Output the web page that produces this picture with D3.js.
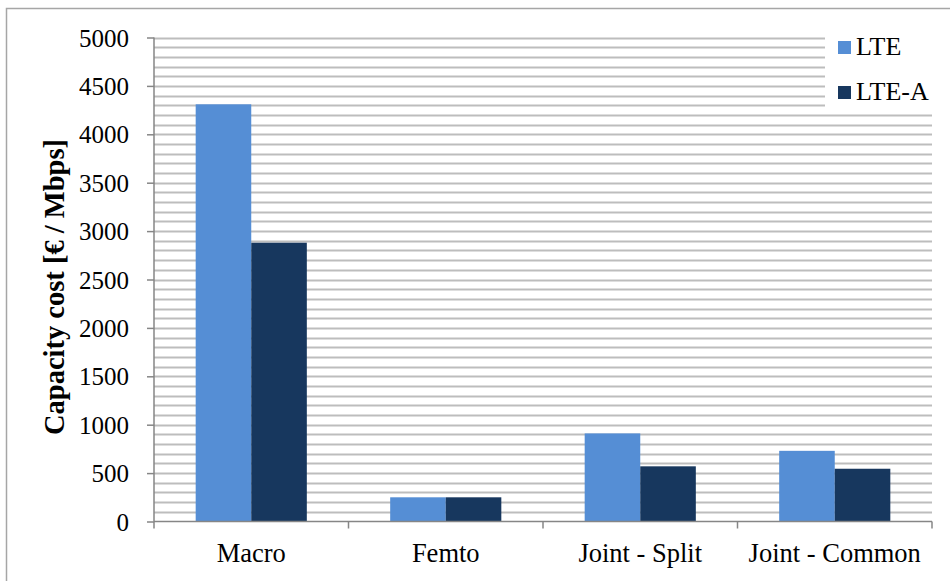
<!DOCTYPE html>
<html><head><meta charset="utf-8">
<script src="https://cdn.jsdelivr.net/npm/d3@7"></script>
<style>body{margin:0;background:#fff}svg{display:block}
svg text{font-family:"Liberation Serif","Times New Roman",serif;fill:#000}</style>
</head><body>
<script>
const categories = ["Macro", "Femto", "Joint - Split", "Joint - Common"];
const seriesNames = ["LTE", "LTE-A"];
const lteValues = [4310, 250, 910, 730];
const lteAValues = [2880, 250, 570, 545];
const yTicks = [0, 500, 1000, 1500, 2000, 2500, 3000, 3500, 4000, 4500, 5000];
const colors = ["#558ED5", "#17375E"];
const yTitle = "Capacity cost [€ / Mbps]";

const W = 950, H = 581;
const m = {left: 154, right: 18, top: 37.5, bottom: 59.5};
const svg = d3.select("body").append("svg").attr("width", W).attr("height", H);

svg.append("rect").attr("x", 6.5).attr("y", 8.5).attr("width", W + 20).attr("height", H + 20)
  .attr("fill", "#fff").attr("stroke", "#a6a6a6").attr("stroke-width", 1.5);

const x0 = d3.scaleBand().domain(categories).range([m.left, W - m.right]).padding(0);
const x1 = d3.scaleBand().domain(seriesNames).range([0, x0.bandwidth()]).paddingInner(0).paddingOuter(0.75);
const y = d3.scaleLinear().domain([0, 5000]).range([H - m.bottom, m.top]);

// gridlines every 100
const grid = d3.range(100, 5001, 100);
svg.append("g").selectAll("line").data(grid).join("line")
  .attr("x1", m.left).attr("x2", W - m.right)
  .attr("y1", d => Math.round(y(d)) + 0.5).attr("y2", d => Math.round(y(d)) + 0.5)
  .attr("stroke", "#bdbdbd").attr("stroke-width", 2);

// bars
const data = categories.map((c, i) => ({cat: c, vals: [lteValues[i], lteAValues[i]]}));
const g = svg.append("g");
data.forEach(d => {
  d.vals.forEach((v, j) => {
    g.append("rect")
      .attr("x", x0(d.cat) + x1(seriesNames[j]))
      .attr("width", x1.bandwidth())
      .attr("y", y(v)).attr("height", y(0) - y(v))
      .attr("fill", colors[j]);
  });
});

// y axis
const yAxis = d3.axisLeft(y).tickValues(yTicks).tickSize(7).tickPadding(18).tickFormat(d3.format("d"));
const ya = svg.append("g").attr("transform", `translate(${m.left},0)`).call(yAxis);
ya.attr("font-family", null).attr("font-size", null);
ya.selectAll("text").style("font-size", "25px").attr("dy", "0.34em");
ya.selectAll("line,path").attr("stroke", "#868686").attr("stroke-width", 1.5);
ya.select(".domain").attr("d", `M0,${y(5000)}V${y(0)}`);

// x axis
const xa = svg.append("g").attr("transform", `translate(0,${y(0)})`);
xa.append("line").attr("x1", m.left).attr("x2", W - m.right).attr("stroke", "#868686").attr("stroke-width", 1.5);
const bounds = categories.map(c => x0(c)).concat([x0(categories[3]) + x0.bandwidth()]);
xa.selectAll(".tk").data(bounds).join("line").attr("class", "tk")
  .attr("x1", d => d).attr("x2", d => d).attr("y1", 0).attr("y2", 7)
  .attr("stroke", "#868686").attr("stroke-width", 1.5);
xa.selectAll(".lbl").data(categories).join("text").attr("class", "lbl")
  .attr("x", d => x0(d) + x0.bandwidth() / 2).attr("y", 40)
  .attr("text-anchor", "middle").style("font-size", "26.5px").text(d => d);

// y title
svg.append("text").attr("transform", `translate(64,287) rotate(-90)`)
  .attr("text-anchor", "middle").style("font-weight", "bold")
  .style("font-size", "28.5px").text(yTitle);

// legend
const lg = svg.append("g");
lg.append("rect").attr("x", 825).attr("y", 28).attr("width", 107).attr("height", 85).attr("fill", "#fff");
seriesNames.forEach((s, i) => {
  const yy = 55 + i * 45;
  lg.append("rect").attr("x", 838).attr("y", yy - 14).attr("width", 13).attr("height", 13).attr("fill", colors[i]);
  lg.append("text").attr("x", 856).attr("y", yy).style("font-size", "26px").text(s);
});
</script>
</body></html>
